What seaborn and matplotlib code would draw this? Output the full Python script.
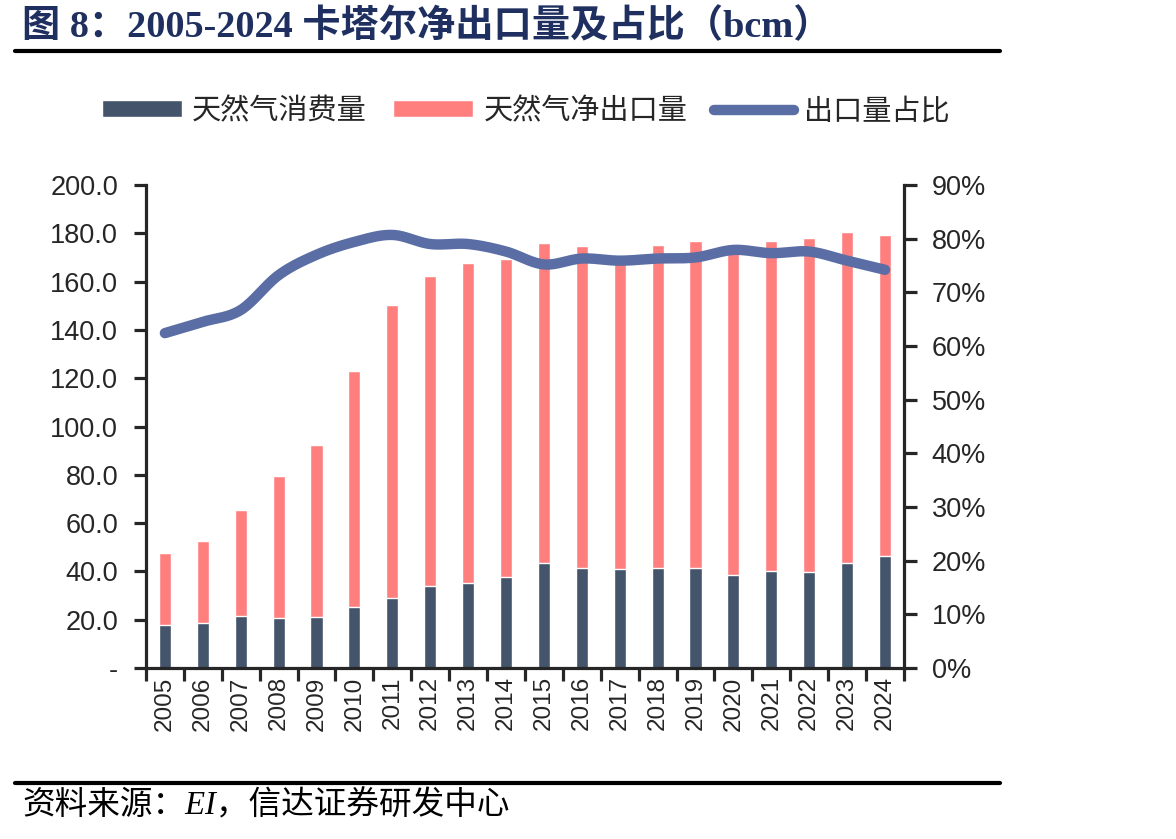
"""
卡塔尔天然气净出口量及占比 (2005-2024)
"""

import numpy as np
import pandas as pd
import seaborn as sns
import matplotlib.pyplot as plt
from matplotlib.lines import Line2D
from matplotlib.patches import Patch
from matplotlib.ticker import FuncFormatter

years = [str(y) for y in range(2005, 2025)]
# 天然气消费量 (bcm)
consumption = [17.8, 18.8, 21.7, 20.8, 21.2, 25.4, 29.1, 34.1, 35.3, 37.8,
               43.5, 41.5, 41.1, 41.5, 41.5, 38.5, 40.2, 39.8, 43.5, 46.4]
# 天然气净出口量 (bcm)
net_export = [29.8, 33.8, 43.7, 58.7, 71.1, 97.6, 121.2, 128.2, 132.4, 131.6,
              132.5, 133.2, 129.5, 133.7, 135.4, 135.0, 136.6, 138.4, 137.2, 132.8]
# 出口量占比 (%)
export_share = [62.4, 64.5, 66.7, 73.2, 77.0, 79.4, 80.7, 79.0, 79.0, 77.6,
                75.2, 76.3, 75.9, 76.3, 76.5, 77.9, 77.3, 77.6, 75.9, 74.2]

df = pd.DataFrame({"year": years, "consumption": consumption, "net_export": net_export,
                   "share": export_share})
df["total"] = df["consumption"] + df["net_export"]

c_cons = "#44546A"
c_exp = "#FF7F7F"
c_line = "#5A6DA4"

sns.set_style("ticks")
plt.rcParams["font.family"] = ["Liberation Sans", "Noto Sans CJK SC"]

fig = plt.figure(figsize=(11.76, 8.39), dpi=100)
ax = fig.add_axes([0.1241, 0.2038, 0.6446, 0.5757])

# 堆叠柱状图: 先画总量, 再画消费量
sns.barplot(data=df, x="year", y="total", color=c_exp, width=0.32, saturation=1, ax=ax)
sns.barplot(data=df, x="year", y="consumption", color=c_cons, width=0.32, saturation=1, ax=ax)

ax.set_ylim(0, 200)
ax.set_xlim(-0.5, len(years) - 0.5)
ax.set_yticks(np.arange(0, 201, 20))
ax.yaxis.set_major_formatter(FuncFormatter(lambda v, p: "-" if v == 0 else f"{v:.1f}"))
ax.set_xticks(range(len(years)))
ax.set_xticklabels(years, rotation=90)
ax.set_xticks(np.arange(-0.5, len(years), 1), minor=True)
ax.tick_params(axis="x", which="major", length=0, pad=6, labelsize=17.5)
ax.tick_params(axis="x", which="minor", length=9, width=2.3, direction="out")
ax.tick_params(axis="y", length=9, width=2.3, direction="out", pad=11, labelsize=19.5)
ax.set_xlabel("")
ax.set_ylabel("")

# 出口量占比 (平滑曲线)
ax2 = ax.twinx()
x = np.arange(len(years), dtype=float)
y = np.array(export_share)
tang = np.gradient(y)
xs, ys = [], []
for i in range(len(x) - 1):
    t = np.linspace(0, 1, 20)
    h00 = 2 * t**3 - 3 * t**2 + 1
    h10 = t**3 - 2 * t**2 + t
    h01 = -2 * t**3 + 3 * t**2
    h11 = t**3 - t**2
    xs.extend(x[i] + t)
    ys.extend(h00 * y[i] + h10 * tang[i] + h01 * y[i + 1] + h11 * tang[i + 1])
sns.lineplot(x=xs, y=ys, color=c_line, linewidth=7.5, ax=ax2, sort=False,
             solid_capstyle="round")
ax2.set_ylim(0, 90)
ax2.set_yticks(np.arange(0, 91, 10))
ax2.yaxis.set_major_formatter(FuncFormatter(lambda v, p: f"{v:.0f}%"))
ax2.tick_params(axis="y", length=9, width=2.3, direction="out", pad=11, labelsize=19.5)
ax2.set_xlim(-0.5, len(years) - 0.5)

for a in (ax, ax2):
    a.spines["top"].set_visible(False)
    for s in ("left", "right", "bottom"):
        a.spines[s].set_linewidth(2.3)
ax.spines["right"].set_visible(False)
ax2.spines["left"].set_visible(False)
ax2.spines["bottom"].set_visible(False)

# 图例
handles = [Patch(facecolor=c_cons, label="天然气消费量"),
           Patch(facecolor=c_exp, label="天然气净出口量"),
           Line2D([0], [0], color=c_line, lw=7.5, solid_capstyle="round", label="出口量占比")]
fig.legend(handles=handles, loc="center", bbox_to_anchor=(0.447, 1 - 111 / 839), ncol=3,
           frameon=False, fontsize=21, handlelength=2.75, handleheight=0.5,
           handletextpad=0.35, columnspacing=0.9)

# 标题和来源
fig.text(22 / 1176, 1 - 27 / 839, "图 8：2005-2024 卡塔尔净出口量及占比（bcm）",
         family=["Liberation Serif", "Noto Sans CJK SC"], fontweight="bold",
         fontsize=27.5, color="#1F3060", va="center", ha="left")
fig.add_artist(Line2D([15 / 1176, 1000 / 1176], [1 - 51 / 839, 1 - 51 / 839],
                      color="black", lw=3, transform=fig.transFigure))
fig.add_artist(Line2D([15 / 1176, 1000 / 1176], [1 - 783 / 839, 1 - 783 / 839],
                      color="black", lw=3, transform=fig.transFigure))
fig.text(22 / 1176, 1 - 806 / 839, "资料来源：EI，信达证券研发中心",
         family=["Liberation Serif", "Noto Sans CJK SC"], style="italic",
         fontsize=23.5, color="black", va="center", ha="left")

fig.savefig("out.png", dpi=100)
